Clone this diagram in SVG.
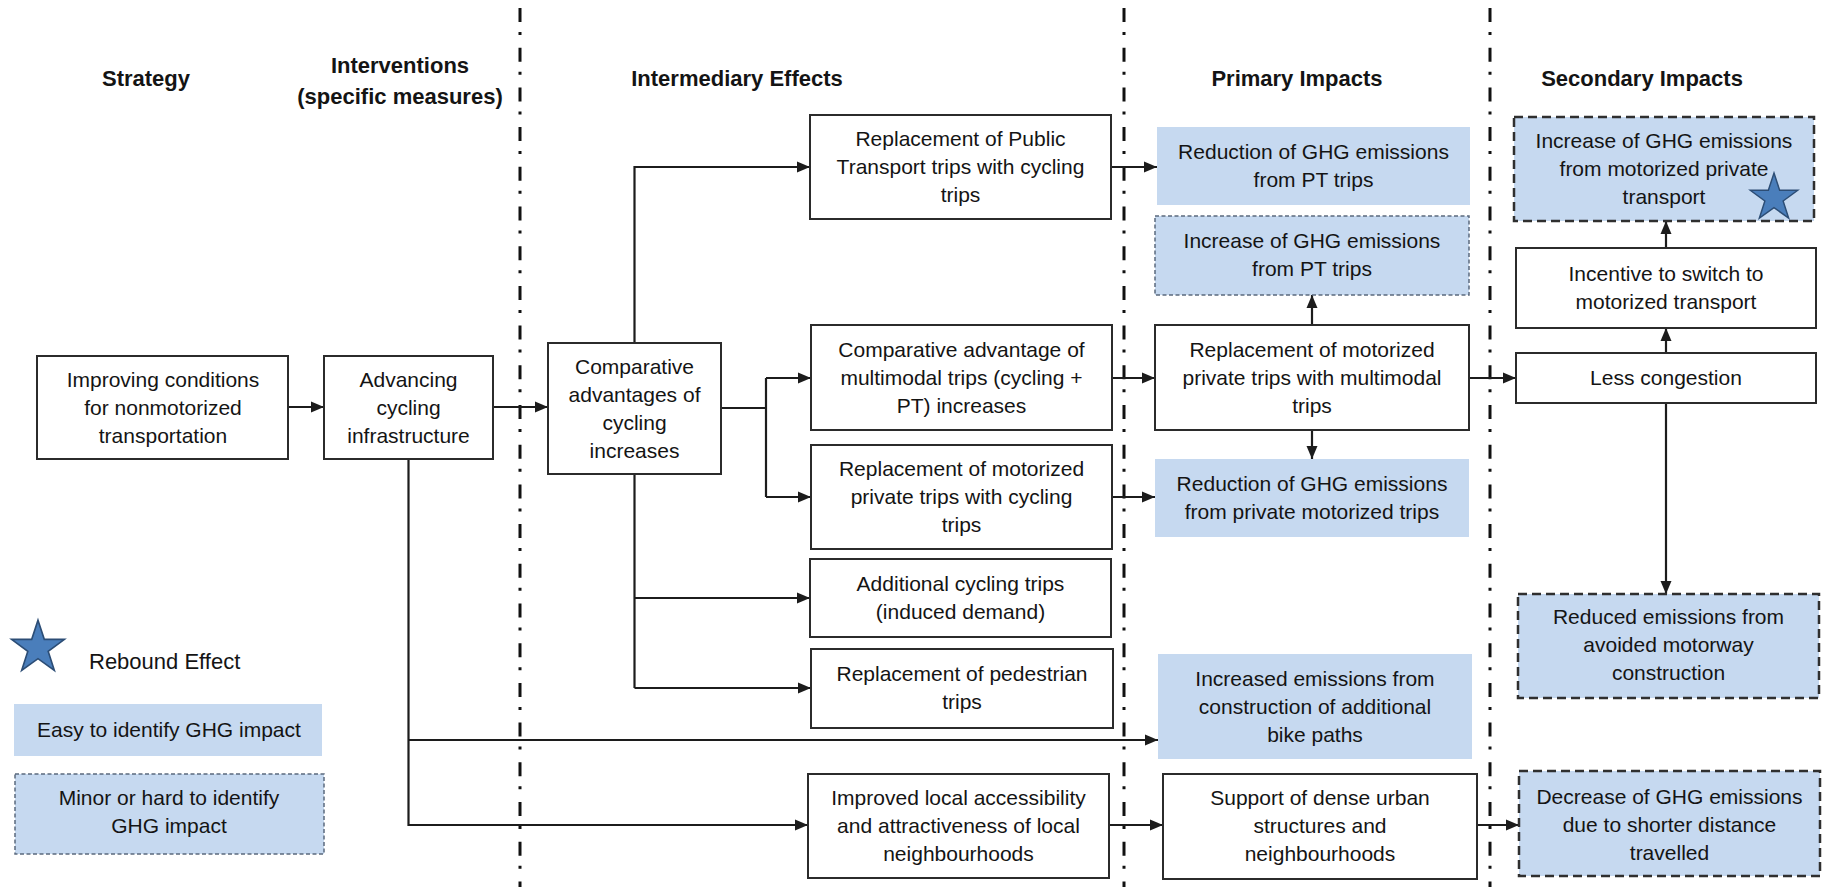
<svg xmlns="http://www.w3.org/2000/svg" width="1825" height="887" viewBox="0 0 1825 887">
  <style>
    text { font-family: "Liberation Sans", Arial, sans-serif; fill: #141414; }
    .hdr { font-size: 22px; font-weight: bold; text-anchor: middle; }
    .lbl { font-size: 21px; text-anchor: middle; }
    .box { fill: #ffffff; stroke: #2b2b2b; stroke-width: 2; }
    .easy { fill: #C6D9F0; stroke: none; }
    .minor { fill: #C6D9F0; stroke: #5b6a7e; stroke-width: 1.5; stroke-dasharray: 4 2.5; }
    .rebound { fill: #C6D9F0; stroke: #2f2f2f; stroke-width: 2.5; stroke-dasharray: 9 5; }
    .divider { stroke: #111; stroke-width: 3; stroke-dasharray: 14 10 3 12.7; fill: none; }
    .conn { stroke: #1c1c1c; stroke-width: 2.2; fill: none; }
    .arrow { marker-end: url(#head); }
    .star { fill: #4A7EBB; stroke: #2C4D75; stroke-width: 1.5; }
  </style>
  <defs>
    <marker id="head" markerUnits="userSpaceOnUse" markerWidth="14" markerHeight="14" refX="13" refY="7" orient="auto">
      <path d="M0,1.5 L13,7 L0,12.5 z" fill="#1c1c1c"/>
    </marker>
    <polygon id="starShape" points="0,-26 5.88,-8.09 24.73,-8.03 9.51,3.09 15.28,21.03 0,10 -15.28,21.03 -9.51,3.09 -24.73,-8.03 -5.88,-8.09"/>
  </defs>

  <rect width="1825" height="887" fill="#ffffff"/>

  <!-- column dividers -->
  <g id="dividers">
    <line class="divider" x1="520" y1="8" x2="520" y2="887"/>
    <line class="divider" x1="1124" y1="8" x2="1124" y2="887"/>
    <line class="divider" x1="1490" y1="8" x2="1490" y2="887"/>
  </g>

  <!-- column headings -->
  <g id="headings">
    <text class="hdr" x="146" y="86">Strategy</text>
    <text class="hdr" x="400" y="73">Interventions</text>
    <text class="hdr" x="400" y="104">(specific measures)</text>
    <text class="hdr" x="737" y="86">Intermediary Effects</text>
    <text class="hdr" x="1297" y="86">Primary Impacts</text>
    <text class="hdr" x="1642" y="86">Secondary Impacts</text>
  </g>

  <!-- connectors -->
  <g id="connectors">
    <path class="conn arrow" d="M288,407 H324"/>
    <path class="conn arrow" d="M493,407 H548"/>
    <path class="conn arrow" d="M634.5,343 V167 H810"/>
    <path class="conn" d="M721,408 H766 M766,378 V497"/>
    <path class="conn arrow" d="M766,378 H811"/>
    <path class="conn arrow" d="M766,497 H811"/>
    <path class="conn" d="M634.5,474 V688"/>
    <path class="conn arrow" d="M634.5,598 H810"/>
    <path class="conn arrow" d="M634.5,688 H811"/>
    <path class="conn arrow" d="M1111,167 H1157"/>
    <path class="conn arrow" d="M1112,378 H1155"/>
    <path class="conn arrow" d="M1112,497 H1155"/>
    <path class="conn arrow" d="M1312,325 V295"/>
    <path class="conn arrow" d="M1312,430 V459"/>
    <path class="conn arrow" d="M1469,378 H1516"/>
    <path class="conn arrow" d="M1666,353 V328"/>
    <path class="conn arrow" d="M1666,248 V221"/>
    <path class="conn arrow" d="M1666,403 V594"/>
    <path class="conn arrow" d="M408.5,459 V825 H808"/>
    <path class="conn arrow" d="M409,740 H1158"/>
    <path class="conn arrow" d="M1109,825 H1163"/>
    <path class="conn arrow" d="M1477,825 H1519"/>
  </g>

  <!-- strategy / intervention -->
  <g id="improving">
    <rect class="box" x="37" y="356" width="251" height="103"/>
    <text class="lbl" x="163" y="387">Improving conditions</text>
    <text class="lbl" x="163" y="415">for nonmotorized</text>
    <text class="lbl" x="163" y="443">transportation</text>
  </g>
  <g id="advancing">
    <rect class="box" x="324" y="356" width="169" height="103"/>
    <text class="lbl" x="408.5" y="387">Advancing</text>
    <text class="lbl" x="408.5" y="415">cycling</text>
    <text class="lbl" x="408.5" y="443">infrastructure</text>
  </g>

  <!-- intermediary effects -->
  <g id="comparative">
    <rect class="box" x="548" y="343" width="173" height="131"/>
    <text class="lbl" x="634.5" y="374">Comparative</text>
    <text class="lbl" x="634.5" y="402">advantages of</text>
    <text class="lbl" x="634.5" y="430">cycling</text>
    <text class="lbl" x="634.5" y="458">increases</text>
  </g>
  <g id="replace-pt">
    <rect class="box" x="810" y="115" width="301" height="104"/>
    <text class="lbl" x="960.5" y="146">Replacement of Public</text>
    <text class="lbl" x="960.5" y="174">Transport trips with cycling</text>
    <text class="lbl" x="960.5" y="202">trips</text>
  </g>
  <g id="multimodal">
    <rect class="box" x="811" y="325" width="301" height="105"/>
    <text class="lbl" x="961.5" y="357">Comparative advantage of</text>
    <text class="lbl" x="961.5" y="385">multimodal trips (cycling +</text>
    <text class="lbl" x="961.5" y="413">PT) increases</text>
  </g>
  <g id="replace-motorized-cycling">
    <rect class="box" x="811" y="445" width="301" height="104"/>
    <text class="lbl" x="961.5" y="476">Replacement of motorized</text>
    <text class="lbl" x="961.5" y="504">private trips with cycling</text>
    <text class="lbl" x="961.5" y="532">trips</text>
  </g>
  <g id="additional">
    <rect class="box" x="810" y="559" width="301" height="78"/>
    <text class="lbl" x="960.5" y="591">Additional cycling trips</text>
    <text class="lbl" x="960.5" y="619">(induced demand)</text>
  </g>
  <g id="pedestrian">
    <rect class="box" x="811" y="649" width="302" height="79"/>
    <text class="lbl" x="962" y="681">Replacement of pedestrian</text>
    <text class="lbl" x="962" y="709">trips</text>
  </g>
  <g id="accessibility">
    <rect class="box" x="808" y="774" width="301" height="104"/>
    <text class="lbl" x="958.5" y="805">Improved local accessibility</text>
    <text class="lbl" x="958.5" y="833">and attractiveness of local</text>
    <text class="lbl" x="958.5" y="861">neighbourhoods</text>
  </g>

  <!-- primary impacts -->
  <g id="reduction-pt">
    <rect class="easy" x="1157" y="127" width="313" height="78"/>
    <text class="lbl" x="1313.5" y="159">Reduction of GHG emissions</text>
    <text class="lbl" x="1313.5" y="187">from PT trips</text>
  </g>
  <g id="increase-pt">
    <rect class="minor" x="1155" y="216" width="314" height="79"/>
    <text class="lbl" x="1312" y="248">Increase of GHG emissions</text>
    <text class="lbl" x="1312" y="276">from PT trips</text>
  </g>
  <g id="replace-motorized-multimodal">
    <rect class="box" x="1155" y="325" width="314" height="105"/>
    <text class="lbl" x="1312" y="357">Replacement of motorized</text>
    <text class="lbl" x="1312" y="385">private trips with multimodal</text>
    <text class="lbl" x="1312" y="413">trips</text>
  </g>
  <g id="reduction-private">
    <rect class="easy" x="1155" y="459" width="314" height="78"/>
    <text class="lbl" x="1312" y="491">Reduction of GHG emissions</text>
    <text class="lbl" x="1312" y="519">from private motorized trips</text>
  </g>
  <g id="construction-emissions">
    <rect class="easy" x="1158" y="654" width="314" height="105"/>
    <text class="lbl" x="1315" y="686">Increased emissions from</text>
    <text class="lbl" x="1315" y="714">construction of additional</text>
    <text class="lbl" x="1315" y="742">bike paths</text>
  </g>
  <g id="dense-urban">
    <rect class="box" x="1163" y="774" width="314" height="105"/>
    <text class="lbl" x="1320" y="805">Support of dense urban</text>
    <text class="lbl" x="1320" y="833">structures and</text>
    <text class="lbl" x="1320" y="861">neighbourhoods</text>
  </g>

  <!-- secondary impacts -->
  <g id="increase-motorized">
    <rect class="rebound" x="1514" y="117" width="300" height="104"/>
    <text class="lbl" x="1664" y="148">Increase of GHG emissions</text>
    <text class="lbl" x="1664" y="176">from motorized private</text>
    <text class="lbl" x="1664" y="204">transport</text>
    <use href="#starShape" class="star" transform="translate(1774,198) scale(0.96)"/>
  </g>
  <g id="incentive">
    <rect class="box" x="1516" y="248" width="300" height="80"/>
    <text class="lbl" x="1666" y="281">Incentive to switch to</text>
    <text class="lbl" x="1666" y="309">motorized transport</text>
  </g>
  <g id="less-congestion">
    <rect class="box" x="1516" y="353" width="300" height="50"/>
    <text class="lbl" x="1666" y="385">Less congestion</text>
  </g>
  <g id="motorway">
    <rect class="rebound" x="1518" y="594" width="301" height="104"/>
    <text class="lbl" x="1668.5" y="624">Reduced emissions from</text>
    <text class="lbl" x="1668.5" y="652">avoided motorway</text>
    <text class="lbl" x="1668.5" y="680">construction</text>
  </g>
  <g id="shorter-distance">
    <rect class="rebound" x="1519" y="771" width="301" height="105"/>
    <text class="lbl" x="1669.5" y="804">Decrease of GHG emissions</text>
    <text class="lbl" x="1669.5" y="832">due to shorter distance</text>
    <text class="lbl" x="1669.5" y="860">travelled</text>
  </g>

  <!-- legend -->
  <g id="legend">
    <use href="#starShape" class="star" transform="translate(38,648) scale(1.07)"/>
    <text x="89" y="669" style="font-size:22px">Rebound Effect</text>
    <rect class="easy" x="14" y="704" width="308" height="52"/>
    <text class="lbl" x="169" y="737">Easy to identify GHG impact</text>
    <rect class="minor" x="15" y="774" width="309" height="80"/>
    <text class="lbl" x="169" y="805">Minor or hard to identify</text>
    <text class="lbl" x="169" y="833">GHG impact</text>
  </g>
</svg>
